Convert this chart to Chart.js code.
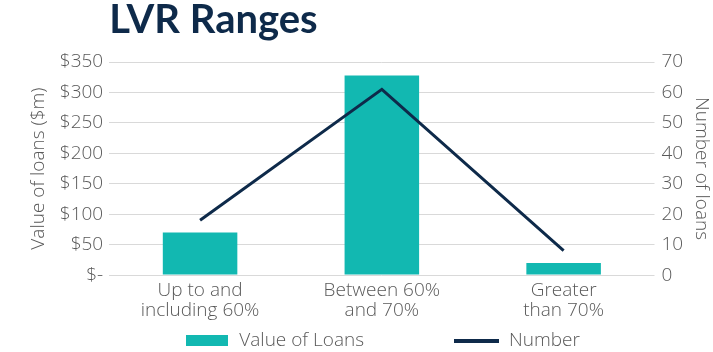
<!DOCTYPE html>
<html>
<head>
<meta charset="utf-8">
<script src="https://cdn.jsdelivr.net/npm/chart.js@4.4.1/dist/chart.umd.min.js"></script>
<style>
    html, body { margin: 0; padding: 0; background: #ffffff; }
    #wrap { width: 713px; height: 352px; }
</style>
</head>
<body>
<div id="wrap"><canvas id="chart" width="713" height="352"></canvas></div>
<script>
const categories = [["Up to and", "including 60%"], ["Between 60%", "and 70%"], ["Greater", "than 70%"]];
const valueOfLoans = [70, 328, 20];      // $m, left axis
const numberOfLoans = [18, 61, 8];       // count, right axis
const seriesNames = ["Value of Loans", "Number"];

const teal = '#12b8b1';
const navy = '#0e2a4a';
const grey = '#595959';
const tickFont = { family: "'Open Sans'", size: 19, weight: 300 };

// small swatches for the legend: a box for the bars, a thick stroke for the line
function swatch(w, h, color) {
    const c = document.createElement('canvas');
    c.width = w;
    c.height = h;
    const g = c.getContext('2d');
    g.fillStyle = color;
    g.fillRect(0, 0, w, h);
    return c;
}
const barSwatch = swatch(42, 11, teal);
const lineSwatch = swatch(45, 4, navy);

const ctx = document.getElementById('chart');

new Chart(ctx, {
    data: {
        labels: categories,
        datasets: [
            {
                type: 'bar',
                label: seriesNames[0],
                data: valueOfLoans,
                backgroundColor: teal,
                yAxisID: 'y',
                order: 1,
                categoryPercentage: 1,
                barPercentage: 0.41
            },
            {
                type: 'line',
                label: seriesNames[1],
                data: numberOfLoans,
                borderColor: navy,
                backgroundColor: navy,
                borderWidth: 3,
                pointRadius: 0,
                tension: 0,
                yAxisID: 'y1',
                order: 0
            }
        ]
    },
    options: {
        responsive: false,
        animation: false,
        layout: { padding: { left: 27, right: 0, top: 0, bottom: -8 } },
        plugins: {
            title: {
                display: true,
                text: 'LVR Ranges',
                align: 'start',
                fullSize: false,
                color: navy,
                font: { family: 'Lato', size: 40, weight: 'bold', lineHeight: 1 },
                padding: { top: 0, bottom: 22 }
            },
            legend: {
                position: 'bottom',
                fullSize: false,
                labels: {
                    color: grey,
                    font: tickFont,
                    usePointStyle: true,
                    pointStyleWidth: 46,
                    boxHeight: 11,
                    padding: 4,
                    generateLabels: chart => {
                        const items = Chart.defaults.plugins.legend.labels.generateLabels(chart);
                        items.sort((a, b) => a.datasetIndex - b.datasetIndex);
                        items.forEach(item => {
                            item.rotation = 0;
                            item.lineWidth = 0;
                            if (item.datasetIndex === 1) {
                                item.pointStyle = lineSwatch;
                            } else {
                                item.pointStyle = barSwatch;
                                item.text = item.text + '\u2003\u2003\u2003\u2003\u2002';
                            }
                        });
                        return items;
                    }
                }
            },
            tooltip: { enabled: false }
        },
        scales: {
            x: {
                grid: { display: false, drawTicks: false },
                border: { display: false },
                ticks: { color: grey, font: { family: "'Open Sans'", size: 19, weight: 300, lineHeight: 1.05 }, maxRotation: 0, padding: 6 }
            },
            y: {
                position: 'left',
                min: 0,
                max: 350,
                grid: { color: '#d9d9d9', lineWidth: 1, drawTicks: false },
                border: { display: false },
                ticks: {
                    stepSize: 50,
                    color: grey,
                    font: tickFont,
                    padding: 6,
                    callback: v => v === 0 ? '$-' : '$' + v
                },
                title: {
                    display: true,
                    text: 'Value of loans ($m)',
                    color: grey,
                    font: tickFont,
                    padding: { top: 0, bottom: 4 }
                }
            },
            y1: {
                position: 'right',
                min: 0,
                max: 70,
                grid: { display: false, drawTicks: false },
                border: { display: false },
                ticks: { stepSize: 10, color: grey, font: tickFont, padding: 7 },
                title: {
                    display: true,
                    text: 'Number of loans',
                    color: grey,
                    font: tickFont,
                    padding: { top: 0, bottom: 0 }
                }
            }
        }
    }
});
</script>
</body>
</html>
